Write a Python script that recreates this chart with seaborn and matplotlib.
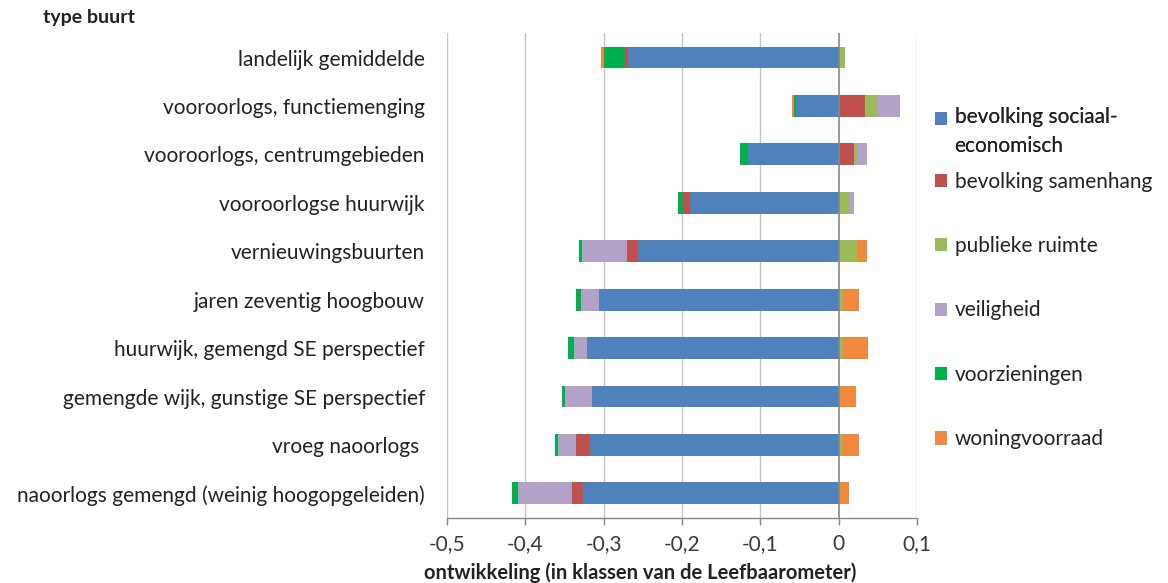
import numpy as np
import pandas as pd
import matplotlib
matplotlib.use("Agg")
import matplotlib.pyplot as plt
from matplotlib.patches import Patch
import seaborn as sns

categories = [
    "landelijk gemiddelde",
    "vooroorlogs, functiemenging",
    "vooroorlogs, centrumgebieden",
    "vooroorlogse huurwijk",
    "vernieuwingsbuurten",
    "jaren zeventig hoogbouw",
    "huurwijk, gemengd SE perspectief",
    "gemengde wijk, gunstige SE perspectief",
    "vroeg naoorlogs ",
    "naoorlogs gemengd (weinig hoogopgeleiden)",
]

series_names = [
    "bevolking sociaal-\neconomisch",
    "bevolking samenhang",
    "publieke ruimte",
    "veiligheid",
    "voorzieningen",
    "woningvoorraad",
]

sociaal_economisch = [-0.269, -0.054, -0.116, -0.190, -0.256, -0.306, -0.321, -0.315, -0.317, -0.326]
samenhang          = [-0.004, 0.034, 0.019, -0.009, -0.014, 0.000, 0.000, 0.000, -0.018, -0.015]
publieke_ruimte    = [0.008, 0.015, 0.004, 0.013, 0.023, 0.005, 0.005, 0.002, 0.004, 0.002]
veiligheid         = [0.000, 0.029, 0.013, 0.006, -0.058, -0.023, -0.017, -0.034, -0.023, -0.068]
voorzieningen      = [-0.026, -0.003, -0.010, -0.006, -0.004, -0.006, -0.008, -0.004, -0.004, -0.008]
woningvoorraad     = [-0.005, -0.002, 0.000, 0.000, 0.013, 0.021, 0.032, 0.020, 0.022, 0.011]

x_ticks = [-0.5, -0.4, -0.3, -0.2, -0.1, 0.0, 0.1]
x_tick_labels = ["-0,5", "-0,4", "-0,3", "-0,2", "-0,1", "0", "0,1"]

colors = ["#4F81BD", "#C0504D", "#9BBB59", "#B3A2C7", "#00B050", "#F0893E"]

sns.set_theme(style="white")
plt.rcParams["font.family"] = ["Lato", "DejaVu Sans"]

FS = 15
TXT = "#222222"

values = np.array([sociaal_economisch, samenhang, publieke_ruimte,
                   veiligheid, voorzieningen, woningvoorraad])
neg_cum = np.cumsum(np.where(values < 0, values, 0), axis=0)
pos_cum = np.cumsum(np.where(values > 0, values, 0), axis=0)

fig = plt.figure(figsize=(11.68, 5.83), dpi=100)
ax = fig.add_axes([447 / 1168, 1 - 517.6 / 583, (917 - 447) / 1168, (517.6 - 33.3) / 583])

# draw outermost cumulative first, inner ones overwrite
for k in range(len(series_names) - 1, -1, -1):
    for cum in (neg_cum, pos_cum):
        df = pd.DataFrame({"cat": categories, "val": cum[k]})
        sns.barplot(data=df, x="val", y="cat", orient="y", color=colors[k],
                    saturation=1, width=0.45, ax=ax, linewidth=0, errorbar=None)

ax.set_xlim(-0.5, 0.1)
ax.set_xticks(x_ticks)
ax.set_xticklabels(x_tick_labels, fontsize=FS, color="#3a3a3a")
ax.tick_params(axis="x", which="both", bottom=True, length=5, width=1, color="#868686", pad=7)
ax.tick_params(axis="y", left=False, pad=10, labelsize=FS, labelcolor=TXT)
ax.set_ylabel("")
ax.set_xlabel("ontwikkeling (in klassen van de Leefbaarometer)", fontsize=14.5,
              fontweight="bold", color=TXT, va="center")
ax.xaxis.set_label_coords(0.41, -0.114)
for t in x_ticks:
    if t != 0:
        ax.axvline(t, color="#C4C4C4", linewidth=1, zorder=0)
ax.axvline(0, color="#868686", linewidth=1.2, zorder=5)
for s in ["top", "right", "left"]:
    ax.spines[s].set_visible(False)
ax.spines["bottom"].set_color("#868686")
ax.spines["bottom"].set_linewidth(1)

fig.text(43 / 1168, 1 - 18 / 583, "type buurt", fontsize=14, fontweight="bold",
         color=TXT, va="center", ha="left")

handles = [Patch(facecolor=c, edgecolor="none") for c in colors]
leg_kw = dict(loc="upper left", frameon=False, fontsize=FS, handlelength=0.6,
              handleheight=0.6, handletextpad=0.35, labelcolor=TXT)
leg1 = fig.legend(handles[:1], series_names[:1],
                  bbox_to_anchor=(916 / 1168, 1 - 88 / 583), **leg_kw)
for t in leg1.get_texts():
    t.set_linespacing(1.58)
for h in leg1.legend_handles:
    h.set_y(h.get_y() + 9.7)
fig.add_artist(leg1)
leg2 = fig.legend(handles[1:], series_names[1:],
                  bbox_to_anchor=(916 / 1168, 1 - 153 / 583), labelspacing=2.13, **leg_kw)

fig.savefig("out.png", dpi=100, facecolor="white")
